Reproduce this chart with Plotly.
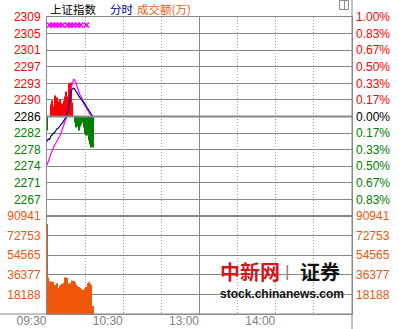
import numpy as np
import plotly.graph_objects as go
from plotly.subplots import make_subplots

# ---------------- data ----------------
minutes = list(range(37))  # minutes since 09:30
index_price = [2280.26, 2280.83, 2280.72, 2281.52, 2281.75, 2282.21, 2282.32, 2282.90,
               2283.24, 2283.36, 2283.93, 2284.16, 2284.51, 2284.97, 2285.31, 2285.89,
               2286.80, 2288.41, 2290.48, 2291.86, 2292.32, 2292.55, 2292.20, 2291.86,
               2291.28, 2290.71, 2290.36, 2289.79, 2289.45, 2289.22, 2288.87, 2288.30,
               2287.84, 2287.38, 2286.92, 2286.57, 2286.00]
avg_price = [2274.86, 2275.55, 2276.47, 2277.39, 2278.19, 2278.76, 2279.45, 2279.91,
             2280.37, 2281.06, 2281.52, 2282.21, 2282.90, 2283.82, 2284.74, 2285.54,
             2286.34, 2288.41, 2290.71, 2292.55, 2293.58, 2294.54, 2294.38, 2293.69,
             2292.55, 2291.63, 2290.94, 2290.48, 2289.56, 2288.87, 2288.41, 2287.84,
             2287.49, 2286.92, 2286.46, 2286.11, None]
strength = [-3.22, 0, 0, 2.76, 3.68, 2.30, 4.82, 3.22, 4.36, 3.45, 3.90, 2.30, 2.99,
            3.68, 4.59, 5.74, 4.59, 7.58, 6.66, 7.81, 3.22, 0, -1.38, -2.53, -2.30,
            -3.22, -2.30, -1.84, -1.38, -2.53, -3.90, -4.36, -4.36, -5.51, -6.43,
            -7.12, -7.12]
volume = [83500, 34000, 30500, 29500, 30000, 29800, 27000, 26500, 28500, 24000,
          26000, 27000, 28000, 29000, 34000, 34000, 33500, 28000, 28500, 28000,
          31000, 30500, 29500, 27000, 26000, 25000, 24000, 23500, 22500, 21500,
          24000, 25000, 28500, 29500, 28000, 27000, 7500]
cross_minutes = [2, 4.5, 7, 9.5, 12, 16, 18.5, 21, 24, 26.5, 31]
cross_level = 2307.0
prev_close = 2286.0
price_labels_left = ["2309", "2305", "2301", "2297", "2293", "2290", "2286",
                     "2282", "2278", "2274", "2271", "2267"]
price_labels_right = ["1.00%", "0.83%", "0.67%", "0.50%", "0.33%", "0.17%", "0.00%",
                      "0.17%", "0.33%", "0.50%", "0.67%", "0.83%"]
vol_max = 90941
vol_labels = ["90941", "72753", "54565", "36377", "18188"]
time_labels = ["09:30", "", "10:30", "", "13:00", "", "14:00", "", ""]

# ---------------- styling ----------------
W, H = 399, 329
ML, MR, MT, MB = 47, 47, 17, 15
PW, PH = W - ML - MR, H - MT - MB
GRID = "#888888"
RED, GREEN, NAVY, MAG, ORANGE = "#ff0000", "#008000", "#000080", "#ff00ff", "#f0560a"
NUMFONT = "Liberation Sans, Arial, sans-serif"
CJK = "Noto Sans CJK SC, sans-serif"


def px_x(p):
    return (p - ML) / PW


def px_y(p):
    return (H - MB - p) / PH


lo, hi = prev_close * 0.99, prev_close * 1.01
price_ticks = list(np.linspace(hi, lo, 13)[:12])
vol_ticks = list(np.linspace(vol_max, 0, 6)[:5])


def colored(labels):
    out = []
    for i, t in enumerate(labels):
        c = RED if i < 6 else ("#000000" if i == 6 else GREEN)
        out.append(f"<span style='color:{c}'>{t}</span>")
    return out


fig = make_subplots(rows=2, cols=1, shared_xaxes=True, vertical_spacing=0,
                    row_heights=[199 / 297, 98 / 297],
                    specs=[[{"secondary_y": True}], [{"secondary_y": True}]])

bar_colors = [RED if v > 0 else GREEN for v in strength]
fig.add_trace(go.Bar(x=minutes, y=strength, base=prev_close, marker_color=bar_colors,
                     marker_line_width=0, showlegend=False, hoverinfo="skip"),
              row=1, col=1)
fig.add_trace(go.Scatter(x=minutes, y=avg_price, mode="lines",
                         line=dict(color=MAG, width=1.2), showlegend=False),
              row=1, col=1)
fig.add_trace(go.Scatter(x=minutes, y=index_price, mode="lines",
                         line=dict(color=NAVY, width=1.2), showlegend=False),
              row=1, col=1)
fig.add_trace(go.Scatter(x=cross_minutes, y=[cross_level] * len(cross_minutes),
                         mode="markers",
                         marker=dict(symbol="x-thin", size=5, color=MAG,
                                     line=dict(color=MAG, width=1.6)),
                         showlegend=False), row=1, col=1)
fig.add_trace(go.Scatter(x=[0], y=[prev_close], mode="markers", marker_opacity=0,
                         showlegend=False, hoverinfo="skip"),
              row=1, col=1, secondary_y=True)
fig.add_trace(go.Bar(x=minutes, y=volume, marker_color=ORANGE, marker_line_width=0,
                     showlegend=False, hoverinfo="skip"), row=2, col=1)
fig.add_trace(go.Scatter(x=[0], y=[0], mode="markers", marker_opacity=0,
                         showlegend=False, hoverinfo="skip"),
              row=2, col=1, secondary_y=True)

xcommon = dict(range=[0, 240], domain=[0, 1], tickvals=list(range(0, 241, 30)),
               showgrid=True, gridcolor="#9a9a9a", griddash="1px,2px", gridwidth=1,
               showline=True, linecolor=GRID, linewidth=1, mirror=True, ticks="",
               zeroline=False, automargin=False)
fig.update_xaxes(**xcommon, showticklabels=False, row=1, col=1)
fig.update_xaxes(**xcommon, ticktext=time_labels, showticklabels=True,
                 ticklabelposition="outside left", ticklabelstandoff=-4,
                 tickfont=dict(family=NUMFONT, size=12, color="#808080"),
                 row=2, col=1)

eps = 0.02
common_y = dict(zeroline=False, ticks="", ticklabelstandoff=3, automargin=False)
fig.update_yaxes(range=[lo, hi + eps], tickvals=price_ticks,
                 ticktext=colored(price_labels_left), showgrid=True, gridcolor=GRID,
                 gridwidth=1, showline=True, linecolor=GRID, mirror=True,
                 tickfont=dict(family=NUMFONT, size=12), **common_y,
                 row=1, col=1, secondary_y=False)
fig.update_yaxes(range=[lo, hi + eps], tickvals=price_ticks,
                 ticktext=colored(price_labels_right), showgrid=False,
                 showline=False, tickfont=dict(family=NUMFONT, size=12), **common_y,
                 row=1, col=1, secondary_y=True)
fig.update_yaxes(range=[0, vol_max * 1.0005], tickvals=vol_ticks, ticktext=vol_labels,
                 showgrid=True, gridcolor=GRID, gridwidth=1, showline=True,
                 linecolor=GRID, mirror=True,
                 tickfont=dict(family=NUMFONT, size=12, color=ORANGE), **common_y,
                 row=2, col=1, secondary_y=False)
fig.update_yaxes(range=[0, vol_max * 1.0005], tickvals=vol_ticks, ticktext=vol_labels,
                 showgrid=False, showline=False,
                 tickfont=dict(family=NUMFONT, size=12, color=ORANGE), **common_y,
                 row=2, col=1, secondary_y=True)

shapes = [
    # previous-close line
    dict(type="line", xref="x", yref="y", x0=0, x1=240, y0=prev_close, y1=prev_close,
         line=dict(color=GRID, width=2)),
    # separator between price and volume panes
    dict(type="line", xref="paper", yref="paper", x0=0, x1=1, y0=98 / 297, y1=98 / 297,
         line=dict(color=GRID, width=2)),
    # noon break line
    dict(type="line", xref="x", yref="paper", x0=120, x1=120, y0=0, y1=1,
         line=dict(color=GRID, width=1)),
    # right border through full height
    dict(type="line", xref="paper", yref="paper", x0=1, x1=1, y0=px_y(H), y1=px_y(0),
         line=dict(color=GRID, width=1)),
    # bottom line to the left edge
    dict(type="line", xref="paper", yref="paper", x0=px_x(0), x1=1, y0=0, y1=0,
         line=dict(color=GRID, width=1)),
    # small window icon
    dict(type="rect", xref="paper", yref="paper", x0=px_x(339.5), x1=px_x(348.5),
         y0=px_y(9.5), y1=px_y(0.5), line=dict(color="#8c8c8c", width=1)),
    dict(type="line", xref="paper", yref="paper", x0=px_x(344.5), x1=px_x(344.5),
         y0=px_y(9.5), y1=px_y(0.5), line=dict(color="#8c8c8c", width=1)),
]

title_font = 11.5
annotations = [
    dict(text="上证指数", x=px_x(49), y=px_y(0), xanchor="left", yanchor="top",
         font=dict(family=CJK, size=title_font, color="#000000")),
    dict(text="分时", x=px_x(109), y=px_y(0), xanchor="left", yanchor="top",
         font=dict(family=CJK, size=title_font, color=NAVY)),
    dict(text="成交额(万)", x=px_x(136), y=px_y(0), xanchor="left", yanchor="top",
         font=dict(family=CJK, size=title_font, color="#e8600f")),
    dict(text="<b>中新网</b>", x=px_x(250), y=px_y(271), xanchor="center",
         yanchor="middle", font=dict(family=CJK, size=20, color="#d4141b")),
    dict(text="|", x=px_x(287), y=px_y(271), xanchor="center", yanchor="middle",
         font=dict(family=NUMFONT, size=17, color="#808080")),
    dict(text="<b>证券</b>", x=px_x(320), y=px_y(271), xanchor="center",
         yanchor="middle", font=dict(family=CJK, size=20, color="#111111")),
    dict(text="<b>stock.chinanews.com</b>", x=px_x(282), y=px_y(293.5),
         xanchor="center", yanchor="middle",
         font=dict(family=NUMFONT, size=12, color="#111111")),
]
for a in annotations:
    a.update(xref="paper", yref="paper", showarrow=False, borderpad=0)

fig.update_layout(width=W, height=H, margin=dict(l=ML, r=MR, t=MT, b=MB, pad=0,
                                                  autoexpand=False),
                  paper_bgcolor="white", plot_bgcolor="white", bargap=0.2,
                  shapes=shapes, annotations=annotations, showlegend=False)

fig.write_html("out.html", config={"displayModeBar": False})
